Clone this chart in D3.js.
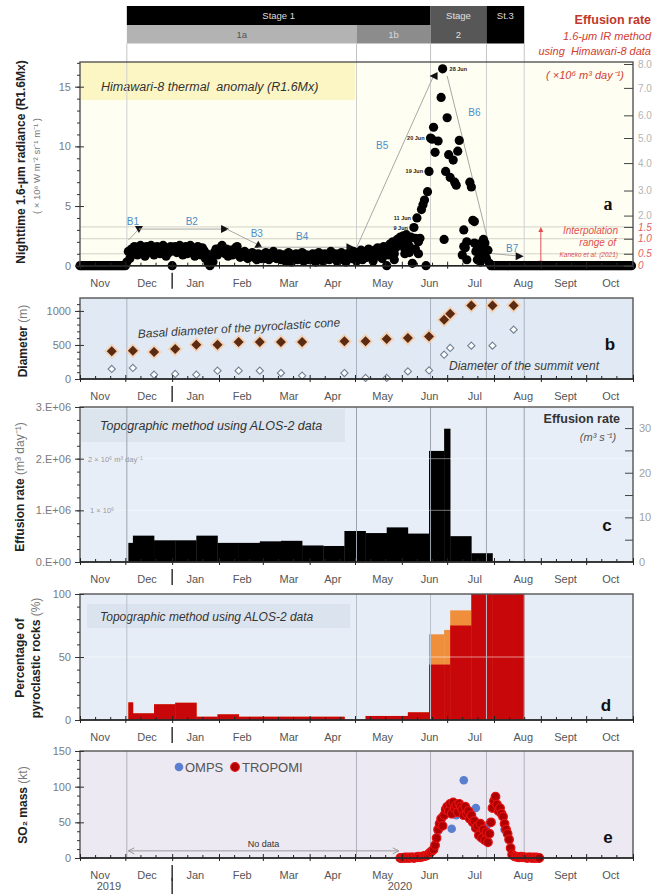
<!DOCTYPE html>
<html>
<head>
<meta charset="utf-8">
<script src="https://cdn.jsdelivr.net/npm/d3@7/dist/d3.min.js"></script>
<style>
  html, body { margin: 0; padding: 0; background: #fff; }
  svg { display: block; }
</style>
</head>
<body>
<svg id="fig" width="653" height="896"></svg>
<script>
// ---------- time axis ----------
const monthLabels = ["Nov","Dec","Jan","Feb","Mar","Apr","May","Jun","Jul","Aug","Sept","Oct"];
const monthLabelDates = ["2019-11-14","2019-12-15","2020-01-16","2020-02-16","2020-03-18","2020-04-16",
                         "2020-05-19","2020-06-19","2020-07-19","2020-08-20","2020-09-17","2020-10-17"];
const stageBounds = ["2019-12-02","2020-05-02","2020-06-20","2020-07-27","2020-08-21"];

// ---------- (a) Himawari-8 nighttime 1.6-um radiance, one value per night ----------
const radNov = [0,0,0,0,0,0,0,0,0,0, 0,0,0,0,0,0,0,0,0,0, 0,0,0,0,0,0,0,0,0,0, 0];            // 1 Nov - 1 Dec 2019
const radDec = [0.3,1.2,0.6,1.4,1.0,1.6,1.3,0.9,1.5,1.7,1.2,1.4,0.8,1.6,1.3,1.1,1.7,1.5,0.9,1.4,
                1.6,1.2,1.0,1.5,1.7,1.3,0.8,1.4,1.1,1.6];                                        // from 2 Dec
const radJan = [0.0,1.3,1.6,1.1,1.5,1.7,1.2,0.9,1.4,1.6,1.0,1.3,1.7,1.5,1.1,0.8,1.4,1.6,1.2,0.9,
                1.5,1.3,0.6,1.0,0.2,0.0,0.7,0.3,1.1,1.4,0.9];
const radFeb = [1.2,1.5,1.7,1.3,1.0,1.4,0.8,1.1,1.3,0.9,1.2,1.5,1.6,1.0,0.7,1.1,0.8,1.2,0.9,0.6,
                1.0,0.8,1.1,0.7,0.9,0.5,1.0,0.8,0.6];
const radMar = [0.9,0.6,1.1,0.8,0.5,1.0,0.7,1.2,0.9,0.6,0.8,1.0,0.5,0.7,0.9,0.4,0.8,1.1,0.6,0.3,
                0.9,0.7,1.0,0.5,0.8,0.6,1.1,0.4,0.7,0.9,0.5];
const radApr = [0.8,0.5,1.0,0.7,0.3,0.9,1.1,0.6,0.8,0.4,1.0,0.7,0.9,0.5,1.2,0.8,0.6,1.0,0.4,0.7,
                0.9,1.1,0.5,0.8,0.3,1.0,0.7,0.9,0.6,1.2];
const radMay = [0.9,0.4,1.1,0.6,1.3,0.5,1.0,1.2,0.7,1.4,0.9,1.1,0.4,1.3,0.8,1.5,1.0,1.2,0.6,1.6,
                1.1,0.0,0.9,1.8,1.3,2.0,1.0,1.5,2.2,1.7,2.4];
const radJun = [1.9,2.5,1.4,2.6,2.0,1.6,2.4,0.2,3.2,2.3,4.0,2.0,2.3,4.7,5.1,5.5,0.0,6.2,7.9,10.7,
                10.6,11.6,9.5,null,10.45,null,14.1,16.5,2.2,7.9];
const radJul = [12.4,9.3,7.4,null,8.85,7.0,6.75,9.6,10.5,null,0.9,3.0,1.5,2.0,null,7.0,6.6,3.8,3.7,1.2,
                0.5,1.8,0.8,1.4,2.2,1.0,0.6,1.3,0.2,0.0,0.0];
const radAugOct = [0,0,0,0,0,0,0,0,0,0, 0,0,0,0,0,0,0,0,0,0, 0,0,0,0,0,0,0,0,0,0,
                   0,0,0,0,0,0,0,0,0,0, 0,0,0,0,0,0,0,0,0,0, 0,0,0,0,0,0,0,0,0,0,
                   0,0,0,0,0,0,0,0,0,0, 0,0,0,0,0,0,0,0,0,0, 0,0,0,0,0,0,0,0,0,0, 0,0];   // 1 Aug - 31 Oct
const radExtraDates  = ["2020-05-27","2020-06-03","2020-06-06","2020-06-10","2020-06-12",
                        "2020-07-12","2020-07-14","2020-07-19","2020-07-21","2020-07-23","2020-07-26"];
const radExtraValues = [0.5,1.0,1.1,1.4,1.0,1.6,0.5,1.9,1.5,0.3,1.9];
const noteDates  = ["2020-06-28","2020-06-20","2020-06-19","2020-06-11","2020-06-09"];
const noteValues = [16.5,10.7,7.9,4.0,3.2];
const noteTexts  = ["28 Jun","20 Jun","19 Jun","11 Jun","9 Jun"];
// effusion-rate scale (10^6 m3/day) shown against radiance
const effTickLabels   = ["8.0","7.0","6.0","5.0","4.0","3.0","2.0","1.5","1.0","0.5","0"];
const effTickRadiance = [16.9,14.9,12.6,10.7,8.6,6.3,4.2,3.25,2.26,1.0,0];
// trend segments B1-B7: [label, start date, start radiance, end date, end radiance, head]
const trendSegs = [
  ["B1","2019-12-03",2.15,"2019-12-10",3.07,"down"],
  ["B2","2019-12-10",3.07,"2020-02-05",3.07,"right"],
  ["B3","2020-02-06",3.07,"2020-02-27",1.75,"up"],
  ["B4","2020-02-27",1.55,"2020-04-28",1.55,"right"],
  ["B5","2020-05-02",1.50,"2020-06-22",15.9,"left"],
  ["B6","2020-07-01",15.9,"2020-07-28",2.10,null],
  ["B7","2020-07-28",1.05,"2020-08-18",0.80,"right"]
];
const trendLabelDates  = ["2019-12-06","2020-01-14","2020-02-26","2020-03-27","2020-05-19","2020-07-19","2020-08-13"];
const trendLabelValues = [3.75,3.75,2.7,2.5,10.1,12.9,1.5];

// ---------- (b) diameters (m) ----------
const diamDates = ["2019-11-22","2019-12-06","2019-12-20","2020-01-03","2020-01-17","2020-01-31","2020-02-14",
                   "2020-02-28","2020-03-13","2020-03-27","2020-04-24","2020-05-08","2020-05-22","2020-06-05",
                   "2020-06-19","2020-06-29","2020-07-03","2020-07-17","2020-07-31","2020-08-14"];
const basalDiam = [406,416,397,441,504,504,544,544,544,544,553,553,588,603,626,872,960,1078,1078,1078];
const ventDiam  = [147,162,63,74,63,122,122,122,88,49,88,15,15,112,126,357,456,490,490,725];

// ---------- (c),(d) ALOS-2 topographic intervals ----------
const alosDates = ["2019-12-03","2019-12-06","2019-12-20","2020-01-03","2020-01-17","2020-01-31","2020-02-14",
                   "2020-02-28","2020-03-13","2020-03-27","2020-04-10","2020-04-24","2020-05-08","2020-05-22",
                   "2020-06-05","2020-06-19","2020-06-29","2020-07-03","2020-07-17","2020-07-31","2020-08-14","2020-08-21"];
const effusionRate = [0.37e6,0.51e6,0.42e6,0.42e6,0.51e6,0.37e6,0.37e6,0.40e6,0.41e6,0.32e6,0.31e6,
                      0.60e6,0.56e6,0.67e6,0.55e6,2.15e6,2.58e6,0.50e6,0.17e6,0.02e6,0.01e6];  // m3/day
const pyroLower = [14,5.3,12.5,13.7,2.6,4.5,2.6,2.6,2.6,2.6,2.6,0,3.2,3.2,6.1,44,44,75,100,100,100];   // %
const pyroUpper = [14,5.3,12.5,13.7,2.6,4.5,2.6,2.6,2.6,2.6,2.6,0,3.2,3.2,6.1,68,71.5,87,100,100,100]; // %

// ---------- (e) SO2 mass (kt) ----------
const tropomiStart = "2020-05-31";
const tropomiSO2 = [0,
  0,0,1,0,1,0,1,1,0,1,  1,2,1,2,2,3,3,4,6,8,  10,12,18,28,40,48,55,45,60,68,
  72,66,76,62,78,70,74,64,76,72,  68,60,72,62,66,55,60,50,52,42,  45,32,48,28,40,25,36,22,34,50,70,
  80,86,75,66,70,62,58,48,40,34,  26,14,5,3,2,2,1,1,2,1,  1,1,0,1,1,0,1,0,1,0,0];
const ompsDates = ["2020-06-25","2020-06-27","2020-06-30","2020-07-04","2020-07-07","2020-07-11","2020-07-12",
                   "2020-07-16","2020-07-20","2020-07-23","2020-07-27","2020-08-03","2020-08-05","2020-08-08"];
const ompsSO2 = [38,45,65,41,60,61,109,55,70,29,45,74,64,40];

// ---------- drawing ----------
const FONT = '"Liberation Sans", Arial, Helvetica, sans-serif';
const svg = d3.select("#fig").attr("font-family", FONT);
const pd = d3.utcParse("%Y-%m-%d");
const X0 = 80, X1 = 633;
const x = d3.scaleUtc().domain([pd("2019-11-01"), pd("2020-11-01")]).range([X0, X1]);

const F = {
  a: { top: 62,  bottom: 265.7, bg: "#fffef2" },
  b: { top: 298, bottom: 379,   bg: "#e1e9f4" },
  c: { top: 407, bottom: 562,   bg: "#e8eef7" },
  d: { top: 594, bottom: 720,   bg: "#e6edf7" },
  e: { top: 751, bottom: 858,   bg: "#ece9f3" }
};
const yA = d3.scaleLinear().domain([0, 17.07]).range([F.a.bottom, F.a.top]);
const yB = d3.scaleLinear().domain([0, 1190]).range([F.b.bottom, F.b.top]);
const yC = d3.scaleLinear().domain([0, 3e6]).range([F.c.bottom, F.c.top]);
const yC2 = d3.scaleLinear().domain([0, 3e6 / 86400]).range([F.c.bottom, F.c.top]);
const yD = d3.scaleLinear().domain([0, 100]).range([F.d.bottom, F.d.top]);
const yE = d3.scaleLinear().domain([0, 150]).range([F.e.bottom, F.e.top]);

function nightly(start, arr) {
  const s = pd(start);
  return arr.map((v, i) => ({ date: d3.utcDay.offset(s, i), v })).filter(d => d.v !== null);
}

function background(f) {
  svg.append("rect").attr("x", X0).attr("y", f.top).attr("width", X1 - X0)
    .attr("height", f.bottom - f.top).attr("fill", f.bg);
}
function stageLines(f, color, y0, y1) {
  svg.append("g").selectAll("line").data(stageBounds).join("line")
    .attr("x1", d => x(pd(d))).attr("x2", d => x(pd(d)))
    .attr("y1", y0 ?? f.top).attr("y2", y1 ?? f.bottom)
    .attr("stroke", color).attr("stroke-width", 1);
}
function border(f) {
  svg.append("rect").attr("x", X0).attr("y", f.top).attr("width", X1 - X0)
    .attr("height", f.bottom - f.top).attr("fill", "none")
    .attr("stroke", "#555").attr("stroke-width", 1.4);
  svg.append("line").attr("x1", X0).attr("x2", X1).attr("y1", f.bottom).attr("y2", f.bottom)
    .attr("stroke", "#222").attr("stroke-width", 1.4);
}

const monthStarts = d3.utcMonth.range(pd("2019-11-01"), pd("2020-11-02"));
const tenDay = d3.utcDay.range(pd("2019-11-01"), pd("2020-11-01")).filter(d => [11, 21].includes(d.getUTCDate()));

function timeAxis(f) {
  const g = svg.append("g").attr("transform", `translate(0,${f.bottom})`);
  g.append("g").call(d3.axisBottom(x).tickValues(tenDay).tickSize(-3).tickFormat(""))
    .call(s => s.select(".domain").remove());
  g.append("g").call(d3.axisBottom(x).tickValues(monthStarts).tickSize(3).tickFormat(""))
    .call(s => s.select(".domain").remove());
  g.append("g").call(d3.axisTop(x).tickValues(monthStarts).tickSize(4).tickFormat(""))
    .call(s => s.select(".domain").remove());
  g.selectAll(".tick line").attr("stroke", "#222");
  const lab = svg.append("g").attr("transform", `translate(0,${f.bottom + 13})`)
    .call(d3.axisBottom(x).tickValues(monthLabelDates.map(pd)).tickSize(0).tickPadding(0)
      .tickFormat((d, i) => monthLabels[i]));
  lab.select(".domain").remove();
  lab.attr("font-family", FONT).attr("font-size", 11);
  lab.selectAll("text").attr("fill", "#555");
  const jan = x(pd("2020-01-01"));
  svg.append("line").attr("x1", jan).attr("x2", jan).attr("y1", f.bottom + 7).attr("y2", f.bottom + 23)
    .attr("stroke", "#333").attr("stroke-width", 1.5);
}

function leftAxis(y, majors, minors, fmt) {
  const g = svg.append("g").attr("transform", `translate(${X0},0)`);
  g.append("g").call(d3.axisLeft(y).tickValues(minors).tickSize(3).tickFormat(""))
    .call(s => s.select(".domain").remove());
  g.append("g").call(d3.axisRight(y).tickValues(majors).tickSize(4).tickFormat(""))
    .call(s => s.select(".domain").remove());
  const m = g.append("g").call(d3.axisLeft(y).tickValues(majors).tickSize(5).tickPadding(4).tickFormat(fmt));
  m.select(".domain").remove();
  m.attr("font-family", FONT).attr("font-size", 11);
  m.selectAll("text").attr("fill", "#7a7a7a");
  g.selectAll(".tick line").attr("stroke", "#333");
}

function rotLabel(xp, yc, parts, size) {
  const t = svg.append("text").attr("transform", `translate(${xp},${yc}) rotate(-90)`)
    .attr("text-anchor", "middle").attr("font-size", size);
  parts.forEach(p => t.append("tspan").text(p[0])
    .attr("font-weight", p[1] ? "bold" : "normal").attr("fill", p[1] ? "#222" : "#777"));
}

function panelLetter(xp, yp, s, serif) {
  svg.append("text").attr("x", xp).attr("y", yp).text(s)
    .attr("font-family", serif ? '"Liberation Serif", "DejaVu Serif", serif' : FONT)
    .attr("font-weight", "bold").attr("font-size", serif ? 18 : 17).attr("fill", "#111")
    .attr("text-anchor", "middle");
}

// ---------- stage bar ----------
{
  const xs = stageBounds.map(d => x(pd(d)));
  const cells = [
    [xs[0], xs[2], 6, 25, "#000"], [xs[0], xs[1], 25, 43.5, "#b3b3b3"], [xs[1], xs[2], 25, 43.5, "#8c8c8c"],
    [xs[2], xs[3], 6, 43.5, "#575757"], [xs[3], xs[4], 6, 43.5, "#000"]
  ];
  svg.append("g").selectAll("rect").data(cells).join("rect")
    .attr("x", d => d[0]).attr("y", d => d[2]).attr("width", d => d[1] - d[0]).attr("height", d => d[3] - d[2])
    .attr("fill", d => d[4]);
  const texts = [
    [(xs[0] + xs[2]) / 2, 19, "Stage 1", "#dcdcdc"], [(xs[0] + xs[1]) / 2, 38, "1a", "#555"],
    [(xs[1] + xs[2]) / 2, 38, "1b", "#d8d8d8"], [(xs[2] + xs[3]) / 2, 19, "Stage", "#e0e0e0"],
    [(xs[2] + xs[3]) / 2, 38, "2", "#e0e0e0"], [(xs[3] + xs[4]) / 2, 19, "St.3", "#dcdcdc"]
  ];
  svg.append("g").selectAll("text").data(texts).join("text")
    .attr("x", d => d[0]).attr("y", d => d[1]).text(d => d[2]).attr("fill", d => d[3])
    .attr("font-size", 9.5).attr("text-anchor", "middle");
  stageLines(F.a, "#c4c4c4", 43.5, F.a.top);
  const red = "#c0392b";
  svg.append("text").attr("x", 651).attr("y", 24).attr("text-anchor", "end").attr("fill", red)
    .attr("font-weight", "bold").attr("font-size", 12.5).text("Effusion rate");
  svg.append("text").attr("x", 651).attr("y", 40).attr("text-anchor", "end").attr("fill", "#d23c30")
    .attr("font-style", "italic").attr("font-size", 11).text("1.6-μm IR method");
  svg.append("text").attr("x", 651).attr("y", 55).attr("text-anchor", "end").attr("fill", "#d23c30")
    .attr("font-style", "italic").attr("font-size", 11).text("using\u00a0 Himawari-8 data");
}

// ---------- panel (a) ----------
{
  const f = F.a;
  background(f);
  svg.append("rect").attr("x", X0).attr("y", f.top).attr("width", 275).attr("height", 38).attr("fill", "#fcf6c4");
  svg.append("text").attr("x", 101).attr("y", 91).attr("font-style", "italic").attr("font-size", 12.5)
    .attr("fill", "#333").text("Himawari-8 thermal\u00a0 anomaly (R1.6Mx)");
  // reference levels of the interpolation range
  svg.append("g").selectAll("line").data(effTickRadiance.slice(7, 10)).join("line")
    .attr("x1", X0).attr("x2", X1).attr("y1", d => yA(d)).attr("y2", d => yA(d))
    .attr("stroke", "#d2d2c8").attr("stroke-width", 1);
  stageLines(f, "#cfcfcf");

  // trend segments
  const tg = svg.append("g");
  trendSegs.forEach((s, i) => {
    const xa = x(pd(s[1])), ya = yA(s[2]), xb = x(pd(s[3])), yb = yA(s[4]);
    tg.append("line").attr("x1", xa).attr("y1", ya).attr("x2", xb).attr("y2", yb)
      .attr("stroke", "#a8a8a8").attr("stroke-width", 1);
    const heads = { down: "M-4,-3L4,-3L0,4Z", up: "M-4,3L4,3L0,-4Z", right: "M-4,-4L-4,4L4,0Z", left: "M4,-4L4,4L-4,0Z" };
    if (s[5]) tg.append("path").attr("d", heads[s[5]]).attr("transform", `translate(${xb},${yb})`).attr("fill", "#111");
    tg.append("text").attr("x", x(pd(trendLabelDates[i]))).attr("y", yA(trendLabelValues[i]) + 4)
      .attr("text-anchor", "middle").attr("font-size", 10).attr("fill", "#4a8fc9").text(s[0]);
  });

  // interpolation-range arrow
  const xi = x(pd("2020-09-01"));
  const ig = svg.append("g").attr("stroke", "#e05050").attr("fill", "#e05050");
  ig.append("line").attr("x1", xi).attr("x2", xi).attr("y1", yA(0) - 2).attr("y2", yA(3.25) + 2).attr("stroke-width", 1);
  ig.append("path").attr("d", `M${xi - 2.5},${yA(3.25) + 5}L${xi + 2.5},${yA(3.25) + 5}L${xi},${yA(3.25)}Z`).attr("stroke", "none");
  ig.append("path").attr("d", `M${xi - 2.5},${yA(0) - 5}L${xi + 2.5},${yA(0) - 5}L${xi},${yA(0)}Z`).attr("stroke", "none");
  const it = svg.append("g").attr("fill", "#e05050").attr("font-style", "italic").attr("text-anchor", "end");
  it.append("text").attr("x", 618).attr("y", 234).attr("font-size", 10).text("Interpolation");
  it.append("text").attr("x", 616).attr("y", 246).attr("font-size", 10).text("range of");
  it.append("text").attr("x", 618).attr("y", 257).attr("font-size", 6.5).text("Kaneko et al. (2021)");

  // radiance dots
  const pts = [].concat(
    nightly("2019-11-01", radNov), nightly("2019-12-02", radDec), nightly("2020-01-01", radJan),
    nightly("2020-02-01", radFeb), nightly("2020-03-01", radMar), nightly("2020-04-01", radApr),
    nightly("2020-05-01", radMay), nightly("2020-06-01", radJun), nightly("2020-07-01", radJul),
    nightly("2020-08-01", radAugOct),
    radExtraDates.map((d, i) => ({ date: pd(d), v: radExtraValues[i] }))
  );
  svg.append("g").selectAll("circle").data(pts).join("circle")
    .attr("cx", d => x(d.date)).attr("cy", d => yA(d.v)).attr("r", 4.6).attr("fill", "#000");

  // date notes
  svg.append("g").selectAll("text").data(noteTexts).join("text")
    .attr("x", (d, i) => x(pd(noteDates[i])) + (i === 0 ? 7 : -6))
    .attr("y", (d, i) => yA(noteValues[i]) + 2)
    .attr("text-anchor", (d, i) => i === 0 ? "start" : "end")
    .attr("font-size", 5.5).attr("font-weight", "bold").attr("fill", "#222").text(d => d);

  border(f);
  leftAxis(yA, [0, 5, 10, 15], d3.range(0, 17.5, 1), d3.format("d"));
  // effusion-rate axis on the right
  const ra = svg.append("g").attr("transform", `translate(${X1},0)`)
    .call(d3.axisRight(yA).tickValues(effTickRadiance).tickSize(-9).tickPadding(5)
      .tickFormat((d, i) => effTickLabels[i]));
  ra.select(".domain").remove();
  ra.attr("font-family", FONT).attr("font-size", 10);
  ra.selectAll(".tick line").attr("stroke", "#444");
  ra.selectAll("text").attr("fill", (d, i) => i >= 7 ? "#e06060" : "#b4b4b4")
    .attr("font-style", (d, i) => i >= 7 ? "italic" : "normal");
  svg.append("text").attr("x", 624).attr("y", 79).attr("text-anchor", "end").attr("fill", "#d23c30")
    .attr("font-style", "italic").attr("font-size", 11).text("( ×10⁶ m³ day⁻¹)");
  timeAxis(f);
  panelLetter(608, 210, "a", true);
  rotLabel(25, 162, [["Nighttime 1.6-μm radiance (R1.6Mx)", true]], 12);
  rotLabel(40, 166, [["( × 10⁶ W m⁻² sr⁻¹ m⁻¹ )", false]], 9.5);
}

// ---------- panel (b) ----------
{
  const f = F.b;
  background(f);
  stageLines(f, "#a9b3bf");
  svg.append("text").attr("transform", `translate(138,338) rotate(-3.3)`).attr("font-style", "italic")
    .attr("font-size", 12).attr("fill", "#3a3a3a").text("Basal diameter of the pyroclastic cone");
  svg.append("text").attr("x", 449).attr("y", 370).attr("font-style", "italic")
    .attr("font-size", 12).attr("fill", "#3a3a3a").text("Diameter of the summit vent");
  const dia = (s) => `M0,${-s}L${s},0L0,${s}L${-s},0Z`;
  const g = svg.append("g");
  g.selectAll(".halo").data(basalDiam).join("path").attr("class", "halo")
    .attr("d", dia(7.5)).attr("fill", "#f7cda6").attr("opacity", 0.85)
    .attr("transform", (d, i) => `translate(${x(pd(diamDates[i]))},${yB(d)})`);
  g.selectAll(".basal").data(basalDiam).join("path").attr("class", "basal")
    .attr("d", dia(5)).attr("fill", "#5a2a12")
    .attr("transform", (d, i) => `translate(${x(pd(diamDates[i]))},${yB(d)})`);
  g.selectAll(".vent").data(ventDiam).join("path").attr("class", "vent")
    .attr("d", dia(3.6)).attr("fill", "#fff").attr("stroke", "#6f7f92").attr("stroke-width", 1.1)
    .attr("transform", (d, i) => `translate(${x(pd(diamDates[i]))},${yB(d)})`);
  border(f);
  leftAxis(yB, [0, 500, 1000], d3.range(0, 1200, 100), d3.format("d"));
  timeAxis(f);
  panelLetter(610, 350, "b", false);
  rotLabel(27, 341, [["Diameter", true], [" (m)", false]], 12);
}

// ---------- panel (c) ----------
{
  const f = F.c;
  background(f);
  svg.append("rect").attr("x", X0 + 1).attr("y", f.top + 2).attr("width", 264).attr("height", 33).attr("fill", "#dce4ee");
  svg.append("text").attr("x", 100).attr("y", 430).attr("font-style", "italic").attr("font-size", 12.5)
    .attr("fill", "#333").text("Topographic method using ALOS-2 data");
  const bars = effusionRate.map((v, i) => ({ x0: x(pd(alosDates[i])), x1: x(pd(alosDates[i + 1])), v }));
  svg.append("g").selectAll("rect").data(bars).join("rect")
    .attr("x", d => d.x0).attr("width", d => d.x1 - d.x0 + 0.3)
    .attr("y", d => yC(d.v)).attr("height", d => yC(0) - yC(d.v)).attr("fill", "#000");
  svg.append("g").selectAll("line").data([1e6, 2e6]).join("line")
    .attr("x1", X0).attr("x2", X1).attr("y1", d => yC(d)).attr("y2", d => yC(d))
    .attr("stroke", "#ffffff").attr("stroke-opacity", 0.45).attr("stroke-width", 1);
  stageLines(f, "#9aa3ae");
  svg.append("text").attr("x", 88).attr("y", yC(2e6) + 3).attr("font-size", 7.5).attr("fill", "#999")
    .text("2 × 10⁶ m³ day⁻¹");
  svg.append("text").attr("x", 90).attr("y", yC(1e6) + 3).attr("font-size", 7.5).attr("fill", "#999")
    .text("1 × 10⁶");
  border(f);
  leftAxis(yC, [0, 1e6, 2e6, 3e6], d3.range(0, 3.01e6, 0.25e6), d => d === 0 ? "0.E+00" : `${d / 1e6}.E+06`);
  const ra = svg.append("g").attr("transform", `translate(${X1},0)`)
    .call(d3.axisRight(yC2).tickValues([0, 5, 10, 15, 20, 25, 30]).tickSize(-8).tickPadding(6)
      .tickFormat(d => d % 10 === 0 ? d : ""));
  ra.select(".domain").remove();
  ra.attr("font-family", FONT).attr("font-size", 11);
  ra.selectAll(".tick line").attr("stroke", "#444");
  ra.selectAll("text").attr("fill", "#a0a0a0");
  svg.append("text").attr("x", 620).attr("y", 423).attr("text-anchor", "end").attr("font-weight", "bold")
    .attr("font-size", 12.5).attr("fill", "#333").text("Effusion rate");
  svg.append("text").attr("x", 598).attr("y", 441).attr("text-anchor", "middle").attr("font-style", "italic")
    .attr("font-size", 11).attr("fill", "#555").text("(m³ s⁻¹)");
  timeAxis(f);
  panelLetter(607, 531, "c", false);
  rotLabel(24, 487, [["Effusion rate", true], ["  (m³ day⁻¹)", false]], 12);
}

// ---------- panel (d) ----------
{
  const f = F.d;
  background(f);
  svg.append("rect").attr("x", 87).attr("y", 604).attr("width", 263).attr("height", 24).attr("fill", "#dbe3ee");
  svg.append("text").attr("x", 100).attr("y", 621).attr("font-style", "italic").attr("font-size", 12)
    .attr("fill", "#333").text("Topographic method using ALOS-2 data");
  const iv = pyroLower.map((v, i) => ({ x0: x(pd(alosDates[i])), x1: x(pd(alosDates[i + 1])), lo: v, hi: pyroUpper[i] }));
  const g = svg.append("g");
  g.selectAll(".up").data(iv).join("rect").attr("class", "up")
    .attr("x", d => d.x0).attr("width", d => d.x1 - d.x0 + 0.3)
    .attr("y", d => yD(d.hi)).attr("height", d => yD(0) - yD(d.hi)).attr("fill", "#ef8f3c");
  g.selectAll(".lo").data(iv).join("rect").attr("class", "lo")
    .attr("x", d => d.x0).attr("width", d => d.x1 - d.x0 + 0.3)
    .attr("y", d => yD(d.lo)).attr("height", d => yD(0) - yD(d.lo)).attr("fill", "#c8070a");
  svg.append("line").attr("x1", X0).attr("x2", X1).attr("y1", yD(50)).attr("y2", yD(50))
    .attr("stroke", "#fff").attr("stroke-opacity", 0.55);
  stageLines(f, "#b8c0ca");
  border(f);
  leftAxis(yD, [0, 50, 100], d3.range(0, 101, 10), d3.format("d"));
  timeAxis(f);
  panelLetter(606, 711, "d", false);
  rotLabel(24, 658, [["Percentage of", true]], 12);
  rotLabel(40, 658, [["pyroclastic rocks ", true], ["(%)", false]], 12);
}

// ---------- panel (e) ----------
{
  const f = F.e;
  background(f);
  stageLines(f, "#b3b0bb");
  // no-data arrow
  const ya = yE(10), xa = x(pd("2019-12-03")), xb = x(pd("2020-05-30"));
  const ng = svg.append("g").attr("stroke", "#999").attr("fill", "none").attr("stroke-width", 1);
  ng.append("line").attr("x1", xa).attr("x2", xb).attr("y1", ya).attr("y2", ya);
  ng.append("path").attr("d", `M${xa + 6},${ya - 3}L${xa},${ya}L${xa + 6},${ya + 3}`);
  ng.append("path").attr("d", `M${xb - 6},${ya - 3}L${xb},${ya}L${xb - 6},${ya + 3}`);
  svg.append("text").attr("x", (xa + xb) / 2).attr("y", ya - 4).attr("text-anchor", "middle")
    .attr("font-size", 9).attr("fill", "#333").text("No data");
  // OMPS under TROPOMI
  svg.append("g").selectAll("circle").data(ompsSO2).join("circle")
    .attr("cx", (d, i) => x(pd(ompsDates[i]))).attr("cy", d => yE(d)).attr("r", 4.3).attr("fill", "#5a7ed0");
  svg.append("g").selectAll("circle").data(nightly(tropomiStart, tropomiSO2)).join("circle")
    .attr("cx", d => x(d.date)).attr("cy", d => yE(d.v)).attr("r", 4.3)
    .attr("fill", "#ae0000").attr("stroke", "#e41212").attr("stroke-width", 1.2);
  // legend
  svg.append("circle").attr("cx", 179).attr("cy", 767).attr("r", 4.3).attr("fill", "#5a7ed0");
  svg.append("text").attr("x", 185).attr("y", 772).attr("font-size", 13).attr("fill", "#555").text("OMPS");
  svg.append("circle").attr("cx", 235).attr("cy", 767).attr("r", 4.3).attr("fill", "#ae0000")
    .attr("stroke", "#e41212").attr("stroke-width", 1.2);
  svg.append("text").attr("x", 242).attr("y", 772).attr("font-size", 13).attr("fill", "#555").text("TROPOMI");
  border(f);
  leftAxis(yE, [0, 50, 100, 150], d3.range(0, 151, 12.5), d3.format("d"));
  timeAxis(f);
  panelLetter(608, 843, "e", false);
  rotLabel(27, 805, [["SO₂ mass", true], [" (kt)", false]], 12);
  svg.append("line").attr("x1", x(pd("2020-01-01"))).attr("x2", x(pd("2020-01-01")))
    .attr("y1", F.e.bottom + 20).attr("y2", F.e.bottom + 36).attr("stroke", "#333").attr("stroke-width", 1.5);
  svg.append("text").attr("x", 109).attr("y", 890).attr("text-anchor", "middle").attr("font-size", 11)
    .attr("fill", "#555").text("2019");
  svg.append("text").attr("x", 400).attr("y", 890).attr("text-anchor", "middle").attr("font-size", 11)
    .attr("fill", "#555").text("2020");
}
</script>
</body>
</html>
